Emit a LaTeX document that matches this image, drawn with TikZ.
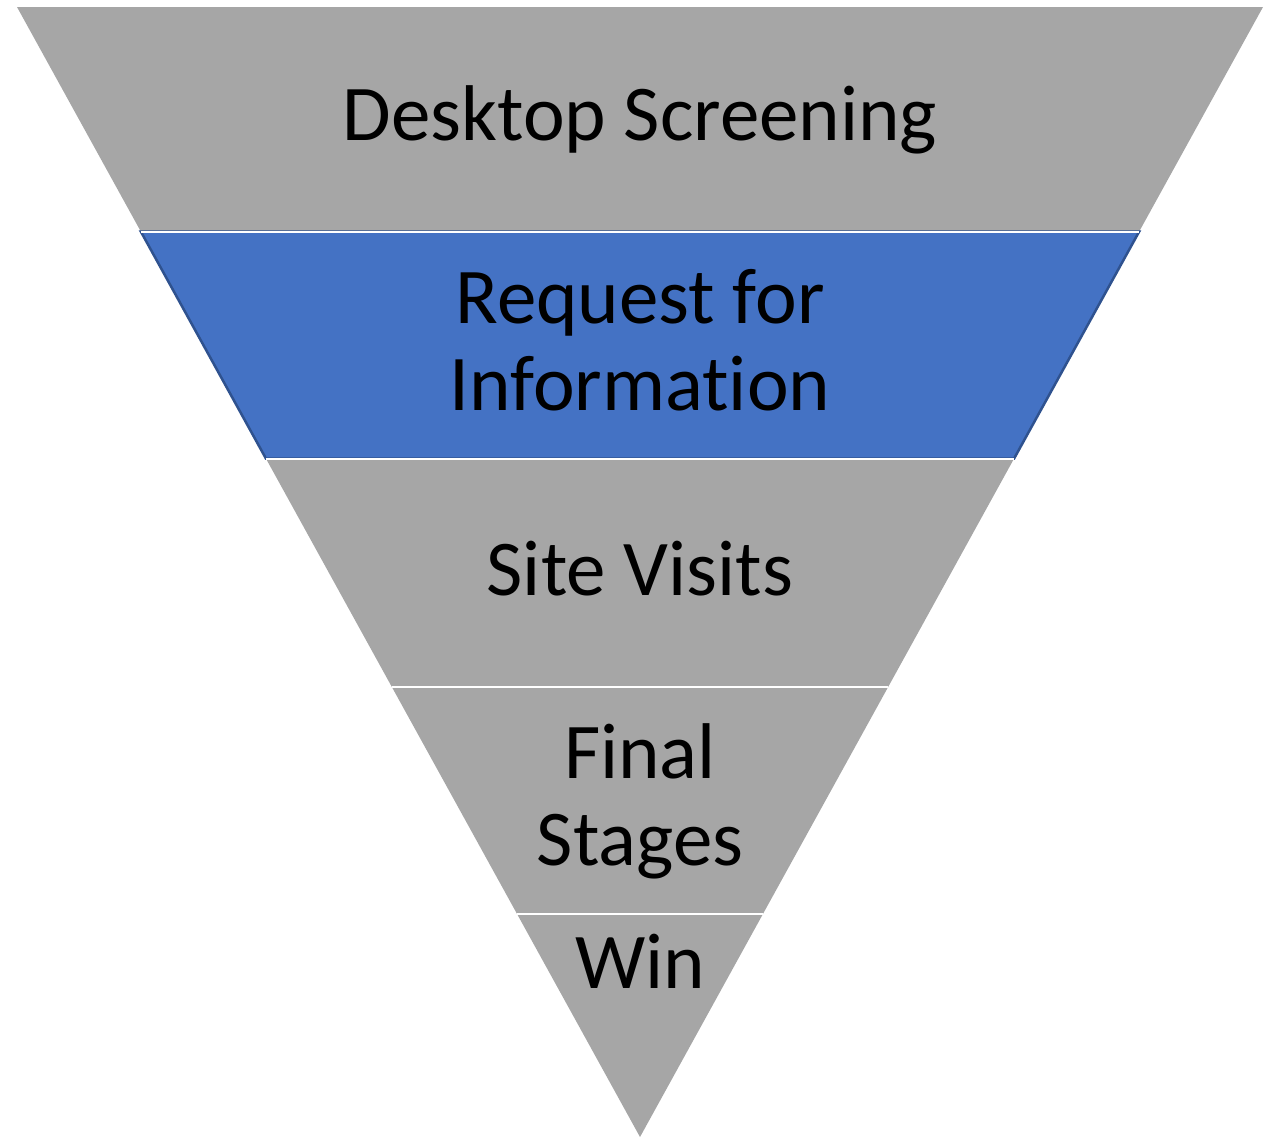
\documentclass[tikz,border=0pt]{standalone}
\usepackage{fontspec}
\setmainfont[RawFeature={-liga}]{Carlito}
\definecolor{funnelgray}{HTML}{A6A6A6}
\definecolor{funnelblue}{HTML}{4472C4}
\definecolor{funnelblueline}{HTML}{2F528F}
\tikzset{
  band/.style={fill=funnelgray, draw=none},
  bluebandstyle/.style={fill=funnelblue, draw=funnelblueline, line width=2.5pt, line join=miter},
  sepline/.style={draw=white, line width=2pt},
  label/.style={font=\fontsize{79}{87}\selectfont, text=black, align=center, inner sep=0pt, anchor=base}
}
\begin{document}
\begin{tikzpicture}[x=1pt,y=-1pt]
\useasboundingbox (0,0) rectangle (1273,1138);
% boundary corner coordinates
\coordinate (l0) at (17,7);      \coordinate (r0) at (1263,7);
\coordinate (l1) at (140.8,231.5); \coordinate (r1) at (1139.2,231.5);
\coordinate (l2) at (265.9,458.5); \coordinate (r2) at (1014.1,458.5);
\coordinate (l3) at (391.6,686.5); \coordinate (r3) at (888.4,686.5);
\coordinate (l4) at (516.8,913.5); \coordinate (r4) at (763.2,913.5);
\coordinate (apex) at (640,1137);
% bands
\path[band] (l0) -- (r0) -- (r1) -- (l1) -- cycle;
\path[band] (l2) -- (r2) -- (r3) -- (l3) -- cycle;
\path[band] (l3) -- (r3) -- (r4) -- (l4) -- cycle;
\path[band] (l4) -- (r4) -- (apex) -- cycle;
\path[bluebandstyle] (l1) -- (r1) -- (r2) -- (l2) -- cycle;
% separators
\draw[sepline] (l1) -- (r1);
\draw[sepline] (l2) -- (r2);
\draw[sepline] (l3) -- (r3);
\draw[sepline] (l4) -- (r4);
% labels (base = baseline of last line)
\node[label] (desk) at (640,140) {Desktop Screening};
\node[label] (rfi) at (640,410) {Request for\\Information};
\node[label] (site) at (640,595) {Site Visits};
\node[label] (final) at (640,865) {Final\\Stages};
\node[label] (win) at (640,988) {Win};
\end{tikzpicture}
\end{document}
